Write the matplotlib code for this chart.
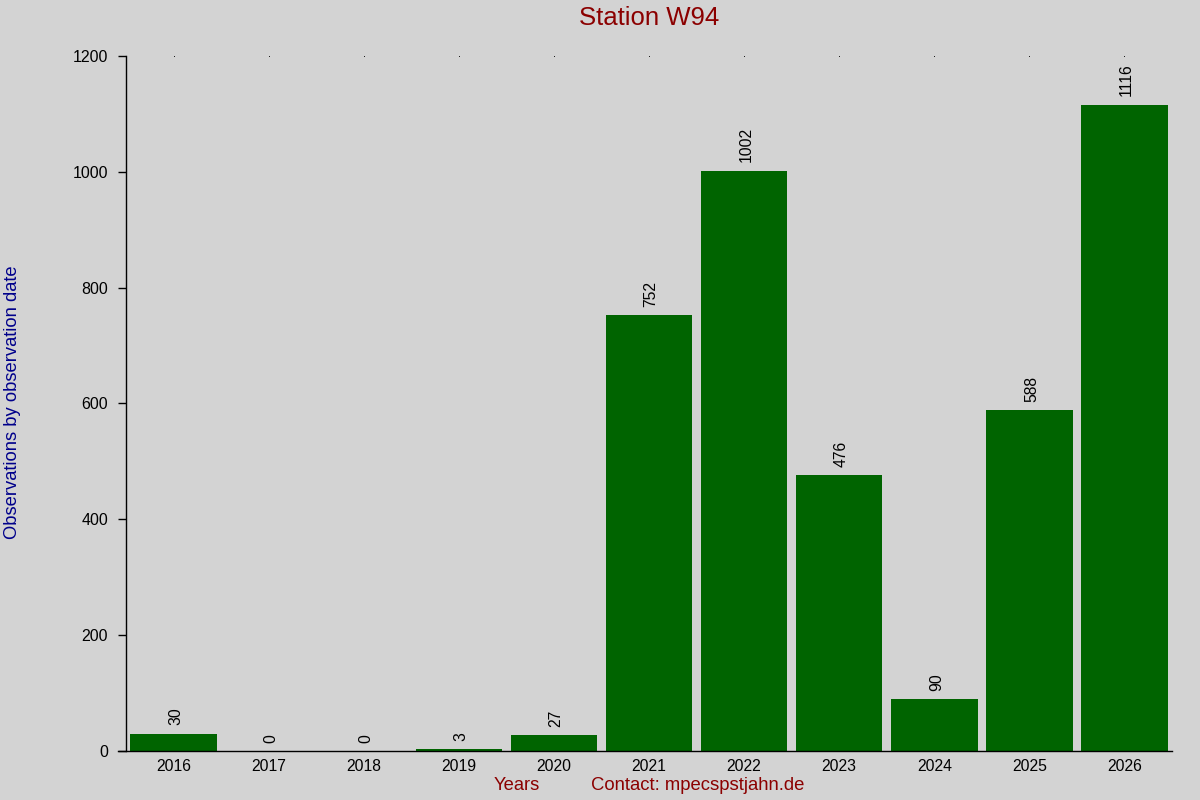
import matplotlib
matplotlib.use("Agg")
import matplotlib.pyplot as plt

years = ["2016", "2017", "2018", "2019", "2020", "2021", "2022", "2023", "2024", "2025", "2026"]
counts = [30, 0, 0, 3, 27, 752, 1002, 476, 90, 588, 1116]
yticks = [0, 200, 400, 600, 800, 1000, 1200]

plt.rcParams['font.family'] = ['Liberation Sans', 'DejaVu Sans']
bg = '#d3d3d3'
fig = plt.figure(figsize=(12, 8), dpi=100, facecolor=bg)
ax = fig.add_axes([0.105, 0.06125, 0.8717, 0.86875])
ax.set_facecolor(bg)

x = list(range(len(years)))
ax.bar(x, counts, width=0.91, color='#006400')
for xi, v in zip(x, counts):
    ax.annotate(str(v), (xi, v), xytext=(1.5, 6), textcoords='offset points',
                rotation=90, ha='center', va='bottom', fontsize=11.3, color='black')

# top dots
ax.scatter(x, [1200] * len(x), s=0.4, color='black', linewidths=0, clip_on=False, zorder=5)

ax.set_xlim(-0.5, 10.5)
ax.set_ylim(0, 1200)
ax.set_xticks(x)
ax.set_xticklabels(years, fontsize=11.3)
ax.set_yticks(yticks)
ax.set_yticklabels([str(t) for t in yticks], fontsize=11.5)
ax.tick_params(axis='x', length=0, pad=6)
ax.tick_params(axis='y', length=5.8, width=1, pad=7)
for s in ['top', 'right']:
    ax.spines[s].set_visible(False)
ax.spines['left'].set_linewidth(1)
ax.spines['bottom'].set_linewidth(1)
ax.spines['bottom'].set_bounds(-0.585, 10.5)

fig.text(0.541, 0.978, "Station W94", ha='center', va='center', fontsize=18.5, color='#8b0000')
fig.text(0.431, 0.0175, "Years", ha='center', va='center', fontsize=13.2, color='#8b0000')
fig.text(0.5817, 0.0175, "Contact: mpecspstjahn.de", ha='center', va='center', fontsize=13.3, color='#8b0000')
fig.text(0.0105, 0.4975, "Observations by observation date", rotation=90, ha='center', va='center',
         fontsize=13.2, color='#00008b')

fig.savefig("out.png", dpi=100, facecolor=bg)
